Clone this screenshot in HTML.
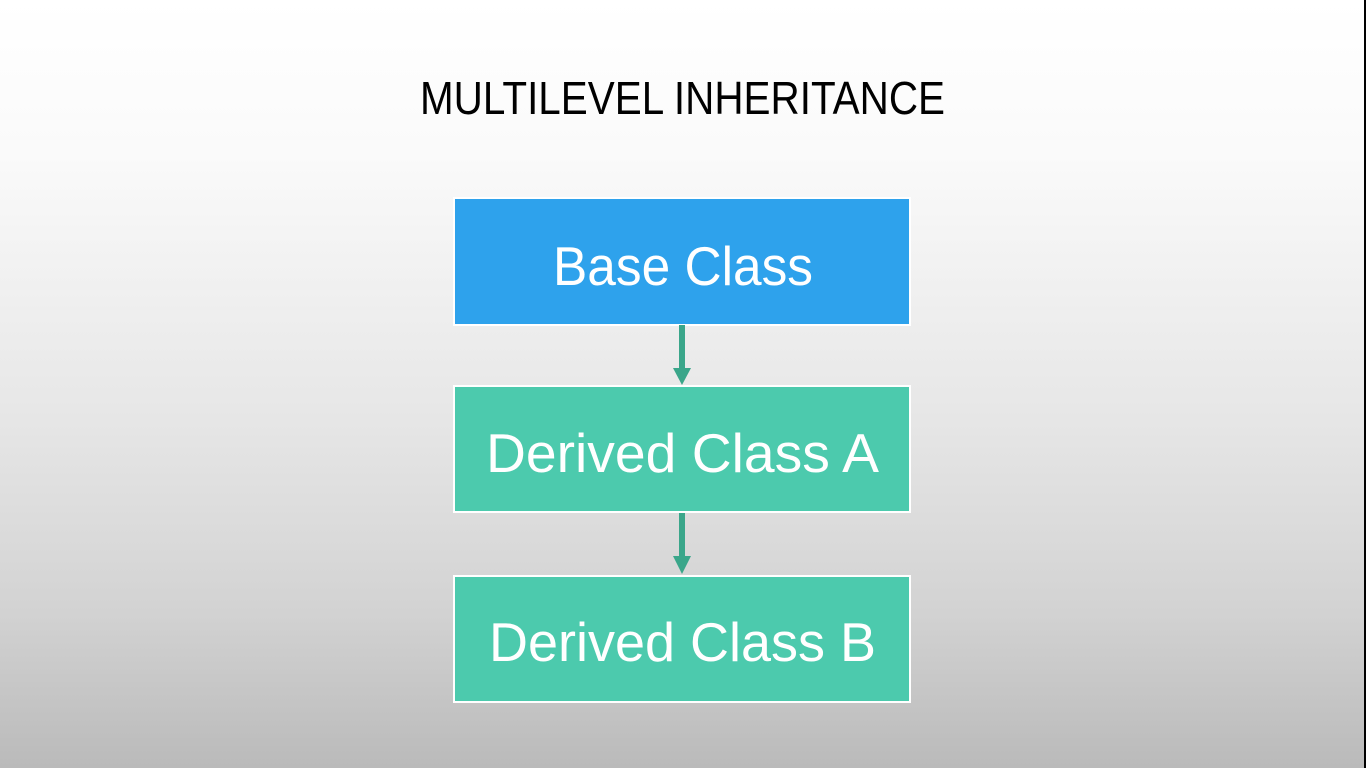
<!DOCTYPE html>
<html><head><style>
html,body{margin:0;padding:0;width:1366px;height:768px;overflow:hidden}
body{background:linear-gradient(#ffffff 0%,#fafafa 20%,#e6e6e6 55%,#d2d2d2 80%,#bababa 100%)}
</style></head><body>
<svg width="1366" height="768" style="position:absolute;left:0;top:0" font-family="Liberation Sans, sans-serif">
<rect x="1364" y="0" width="2" height="768" fill="#000"/>
<text x="420" y="114" font-size="46" textLength="525" lengthAdjust="spacingAndGlyphs" fill="#000">MULTILEVEL INHERITANCE</text>
<rect x="454" y="198" width="456" height="127" fill="#2ea2ec" stroke="#fff" stroke-width="2"/>
<text x="553" y="285" font-size="55" textLength="260" lengthAdjust="spacingAndGlyphs" fill="#fff">Base Class</text>
<rect x="679" y="325" width="6" height="44" fill="#3aa68a"/>
<polygon points="673,368 691,368 682,385" fill="#3aa68a"/>
<rect x="454" y="386" width="456" height="126" fill="#4ccaad" stroke="#fff" stroke-width="2"/>
<text x="486" y="472" font-size="55" textLength="393" lengthAdjust="spacingAndGlyphs" fill="#fff">Derived Class A</text>
<rect x="679" y="513" width="6" height="44" fill="#3aa68a"/>
<polygon points="673,556 691,556 682,574" fill="#3aa68a"/>
<rect x="454" y="576" width="456" height="126" fill="#4ccaad" stroke="#fff" stroke-width="2"/>
<text x="489" y="661" font-size="55" textLength="387" lengthAdjust="spacingAndGlyphs" fill="#fff">Derived Class B</text>
</svg>
</body></html>
